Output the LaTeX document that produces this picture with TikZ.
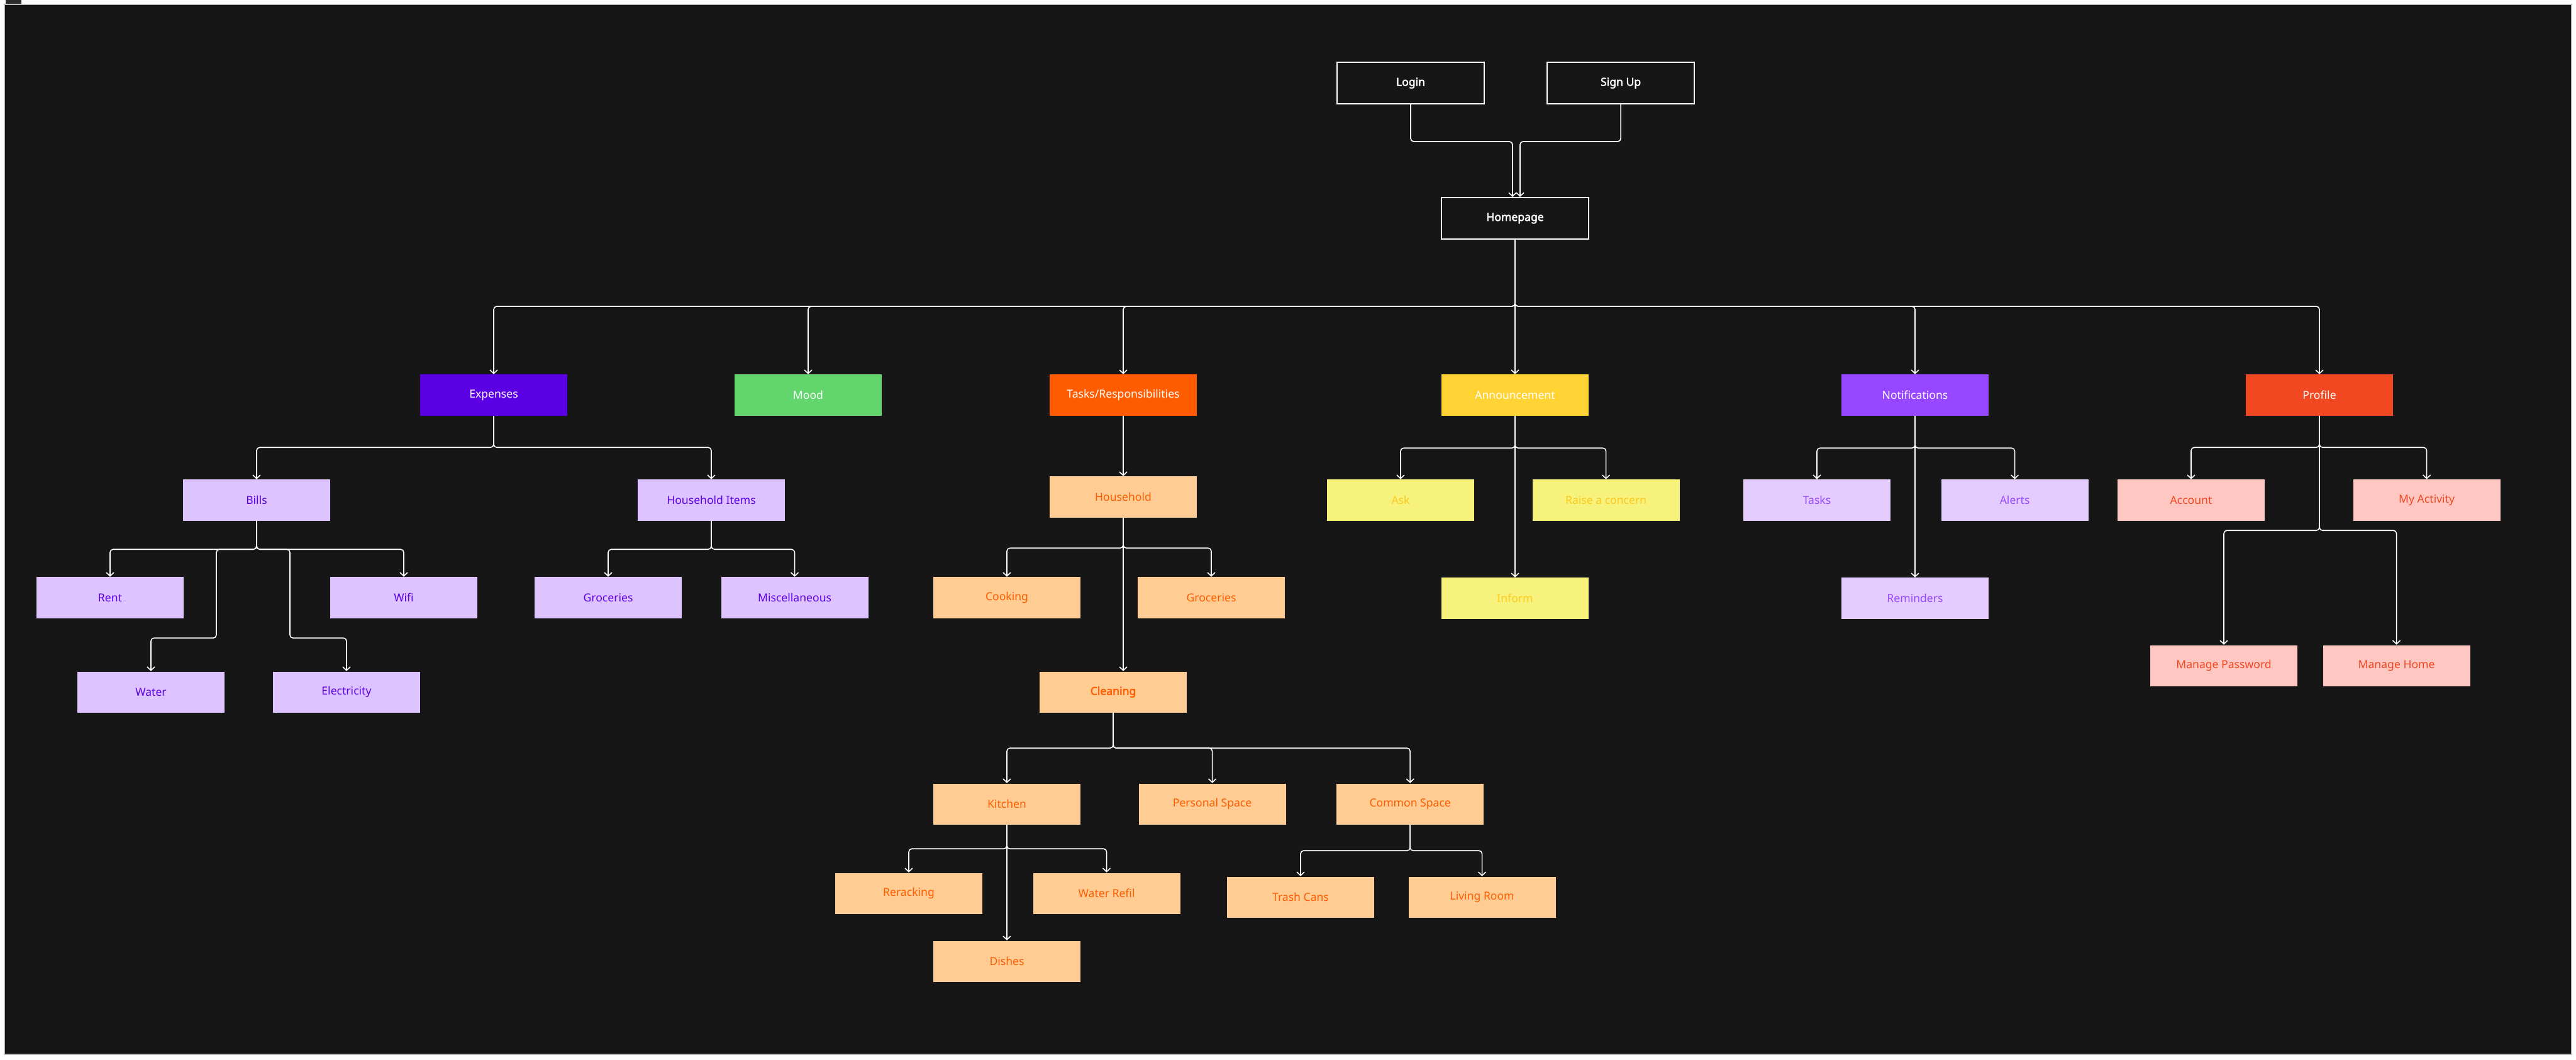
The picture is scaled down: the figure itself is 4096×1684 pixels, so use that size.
\documentclass[tikz,border=0pt]{standalone}
\usepackage{fontspec}
\setmainfont{Noto Sans}[AutoFakeBold=2.5]
\usetikzlibrary{arrows.meta, positioning}
\definecolor{canvasdark}{RGB}{22,22,22}
\definecolor{framegray}{RGB}{190,190,190}
\definecolor{tagdark}{RGB}{44,44,44}
\definecolor{expviolet}{RGB}{92,0,228}
\definecolor{moodgreen}{RGB}{98,214,108}
\definecolor{taskorange}{RGB}{255,92,0}
\definecolor{annyellow}{RGB}{255,211,51}
\definecolor{notifviolet}{RGB}{151,71,255}
\definecolor{profred}{RGB}{242,72,34}
\definecolor{explight}{RGB}{221,195,255}
\definecolor{tasklight}{RGB}{255,205,148}
\definecolor{annlight}{RGB}{246,242,124}
\definecolor{anntext}{RGB}{255,200,30}
\definecolor{notiflight}{RGB}{228,204,255}
\definecolor{proflight}{RGB}{255,199,194}

\begin{document}
\begin{tikzpicture}[
    x=0.01cm, y=-0.01cm,
    box/.style={
        rectangle, inner sep=0pt, minimum width=2.34cm, minimum height=0.65cm,
        font=\fontsize{5pt}{6pt}\selectfont
    },
    topbox/.style={
        box, draw=white, line width=0.55pt, fill=canvasdark, text=white,
        minimum height=0.66cm, font=\fontsize{5pt}{6pt}\selectfont\bfseries
    },
    catbox/.style={box, fill=#1, text=white},
    subbox/.style 2 args={box, fill=#1, text=#2},
    link/.style={-{Straight Barb[length=1.6pt,width=3.4pt]}, white,
        line width=0.45pt, rounded corners=1.4pt}
]
    % page and frame
    \fill [white] (0,0) rectangle (4096,1684);
    \draw [framegray, fill=canvasdark, line width=0.45pt] (7,7) rectangle (4089,1676);
    \fill [tagdark] (9,0) rectangle (34,6);

    % entry
    \node [topbox] (login) at (2243,132) {Login};
    \node [topbox, right=0.98cm of login] (signup) {Sign Up};
    \node [topbox] (home) at (2409,347) {Homepage};

    % sections
    \node [catbox=expviolet]   (exp)   at (785,628)  {Expenses};
    \node [catbox=moodgreen]   (mood)  at (1285,628) {Mood};
    \node [catbox=taskorange]  (tasks) at (1786,628) {Tasks/Responsibilities};
    \node [catbox=annyellow]   (ann)   at (2409,628) {Announcement};
    \node [catbox=notifviolet] (notif) at (3045,628) {Notifications};
    \node [catbox=profred]     (prof)  at (3688,628) {Profile};

    % expenses
    \node [subbox={explight}{expviolet}] (bills)  at (408,795)  {Bills};
    \node [subbox={explight}{expviolet}] (hitems) at (1131,795) {Household Items};
    \node [subbox={explight}{expviolet}] (rent)   at (175,950)  {Rent};
    \node [subbox={explight}{expviolet}] (wifi)   at (642,950)  {Wifi};
    \node [subbox={explight}{expviolet}] (water)  at (240,1100) {Water};
    \node [subbox={explight}{expviolet}] (elec)   at (551,1100) {Electricity};
    \node [subbox={explight}{expviolet}] (groc)   at (967,950)  {Groceries};
    \node [subbox={explight}{expviolet}, right=0.61cm of groc] (misc) {Miscellaneous};

    % tasks
    \node [subbox={tasklight}{taskorange}] (house)   at (1786,790)  {Household};
    \node [subbox={tasklight}{taskorange}] (cook)    at (1601,950)  {Cooking};
    \node [subbox={tasklight}{taskorange}] (tgroc)   at (1926,950)  {Groceries};
    \node [subbox={tasklight}{taskorange}, font=\fontsize{5pt}{6pt}\selectfont\bfseries]
        (clean) at (1770,1100) {Cleaning};
    \node [subbox={tasklight}{taskorange}] (kitchen) at (1601,1278) {Kitchen};
    \node [subbox={tasklight}{taskorange}, right=0.91cm of kitchen] (personal) {Personal Space};
    \node [subbox={tasklight}{taskorange}, right=0.79cm of personal] (common) {Common Space};
    \node [subbox={tasklight}{taskorange}] (rerack)  at (1445,1420) {Reracking};
    \node [subbox={tasklight}{taskorange}, right=0.79cm of rerack] (refil) {Water Refil};
    \node [subbox={tasklight}{taskorange}] (dishes)  at (1601,1528) {Dishes};
    \node [subbox={tasklight}{taskorange}] (trash)   at (2068,1426) {Trash Cans};
    \node [subbox={tasklight}{taskorange}, right=0.53cm of trash] (living) {Living Room};

    % announcement
    \node [subbox={annlight}{anntext}] (ask)    at (2227,795) {Ask};
    \node [subbox={annlight}{anntext}, right=0.91cm of ask] (raise) {Raise a concern};
    \node [subbox={annlight}{anntext}] (inform) at (2409,951) {Inform};

    % notifications
    \node [subbox={notiflight}{notifviolet}] (ntasks) at (2889,795) {Tasks};
    \node [subbox={notiflight}{notifviolet}, right=0.79cm of ntasks] (alerts) {Alerts};
    \node [subbox={notiflight}{notifviolet}] (remind) at (3045,951) {Reminders};

    % profile
    \node [subbox={proflight}{profred}] (account) at (3484,795) {Account};
    \node [subbox={proflight}{profred}, right=1.39cm of account] (myact) {My Activity};
    \node [subbox={proflight}{profred}] (mpass) at (3536,1058) {Manage Password};
    \node [subbox={proflight}{profred}, right=0.39cm of mpass] (mhome) {Manage Home};

    % connectors
    \draw [link] (login.south) -- ++(0,59) -| ([xshift=-0.04cm]home.north);
    \draw [link] (signup.south) -- ++(0,59) -| ([xshift=0.08cm]home.north);

    \foreach \c in {exp, mood, tasks, notif, prof}
        \draw [link] (home.south) -- ++(0,106) -| (\c.north);
    \draw [link] (home.south) -- (ann.north);

    \foreach \c in {bills, hitems}
        \draw [link] (exp.south) -- ++(0,50) -| (\c.north);
    \foreach \c in {rent, wifi}
        \draw [link] (bills.south) -- ++(0,45) -| (\c.north);
    \draw [link] (bills.south) -- ++(0,45) -| ++(-64,141) -| (water.north);
    \draw [link] (bills.south) -- ++(0,45) -| ++(53,141) -| (elec.north);
    \foreach \c in {groc, misc}
        \draw [link] (hitems.south) -- ++(0,45) -| (\c.north);

    \draw [link] (tasks.south) -- (house.north);
    \foreach \c in {cook, tgroc}
        \draw [link] (house.south) -- ++(0,48) -| (\c.north);
    \draw [link] (house.south) -- (house.south |- clean.north);
    \foreach \c in {kitchen, personal, common}
        \draw [link] (clean.south) -- ++(0,56) -| (\c.north);
    \foreach \c in {rerack, refil}
        \draw [link] (kitchen.south) -- ++(0,38) -| (\c.north);
    \draw [link] (kitchen.south) -- (dishes.north);
    \foreach \c in {trash, living}
        \draw [link] (common.south) -- ++(0,41) -| (\c.north);

    \foreach \c in {ask, raise}
        \draw [link] (ann.south) -- ++(0,51) -| (\c.north);
    \draw [link] (ann.south) -- (inform.north);

    \foreach \c in {ntasks, alerts}
        \draw [link] (notif.south) -- ++(0,51) -| (\c.north);
    \draw [link] (notif.south) -- (remind.north);

    \foreach \c in {account, myact}
        \draw [link] (prof.south) -- ++(0,50) -| (\c.north);
    \foreach \c in {mpass, mhome}
        \draw [link] (prof.south) -- ++(0,182) -| (\c.north);
\end{tikzpicture}
\end{document}
